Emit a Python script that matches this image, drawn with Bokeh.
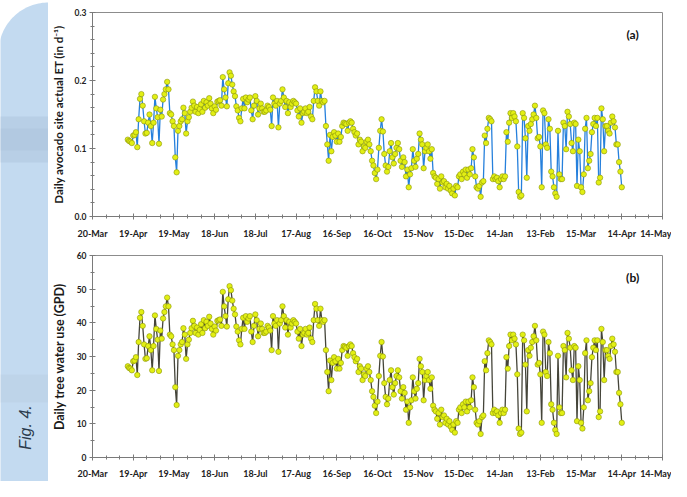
import numpy as np
from bokeh.plotting import figure
from bokeh.models import FixedTicker, Label, Range1d, NumeralTickFormatter
from bokeh.layouts import row, column
from bokeh.embed import file_html
from bokeh.resources import INLINE

# ---------------- data ----------------
TICK_DAYS = list(range(0, 421, 30))          # days after 20-Mar
TICK_LABELS = ["20-Mar", "19-Apr", "19-May", "18-Jun", "18-Jul", "17-Aug", "16-Sep",
               "16-Oct", "15-Nov", "15-Dec", "14-Jan", "13-Feb", "15-Mar", "14-Apr", "14-May"]
START_DAY = 26                                # first daily reading: 15-Apr

# Daily avocado site actual ET (in d-1)
ET = [0.113, 0.111, 0.110, 0.108, 0.119, 0.120, 0.124, 0.102, 0.143, 0.173,
      0.180, 0.163, 0.140, 0.122, 0.123, 0.138, 0.150, 0.133, 0.108, 0.138,
      0.176, 0.159, 0.146, 0.107, 0.157, 0.147, 0.172, 0.180, 0.187, 0.198,
      0.187, 0.152, 0.150, 0.140, 0.133, 0.087, 0.065, 0.126, 0.133, 0.140,
      0.143, 0.160, 0.152, 0.122, 0.140, 0.146, 0.154, 0.160, 0.169, 0.163,
      0.154, 0.161, 0.152, 0.158, 0.165, 0.154, 0.170, 0.160, 0.168, 0.163,
      0.174, 0.166, 0.159, 0.152, 0.162, 0.157, 0.169, 0.170, 0.171, 0.163,
      0.205, 0.187, 0.175, 0.162, 0.196, 0.212, 0.207, 0.194, 0.184, 0.177,
      0.162, 0.156, 0.145, 0.140, 0.159, 0.173, 0.159, 0.175, 0.168, 0.172,
      0.175, 0.156, 0.143, 0.163, 0.177, 0.170, 0.150, 0.159, 0.166, 0.159,
      0.154, 0.154, 0.156, 0.163, 0.161, 0.157, 0.133, 0.175, 0.166, 0.163,
      0.170, 0.131, 0.166, 0.170, 0.187, 0.175, 0.161, 0.170, 0.152, 0.168,
      0.161, 0.166, 0.170, 0.168, 0.166, 0.156, 0.147, 0.159, 0.138, 0.152,
      0.154, 0.159, 0.152, 0.154, 0.161, 0.147, 0.143, 0.170, 0.190, 0.184,
      0.170, 0.163, 0.184, 0.170, 0.168, 0.170, 0.133, 0.106, 0.082, 0.120,
      0.096, 0.117, 0.124, 0.119, 0.110, 0.122, 0.110, 0.117, 0.133, 0.138,
      0.137, 0.136, 0.126, 0.138, 0.140, 0.138, 0.129, 0.124, 0.119, 0.122,
      0.106, 0.113, 0.110, 0.096, 0.103, 0.101, 0.110, 0.113, 0.106, 0.096,
      0.082, 0.075, 0.064, 0.055, 0.069, 0.101, 0.126, 0.143, 0.125, 0.092,
      0.075, 0.066, 0.073, 0.096, 0.108, 0.087, 0.078, 0.092, 0.101, 0.108,
      0.099, 0.082, 0.073, 0.087, 0.080, 0.059, 0.069, 0.043, 0.062, 0.071,
      0.099, 0.082, 0.073, 0.085, 0.092, 0.122, 0.113, 0.106, 0.071, 0.096,
      0.101, 0.106, 0.096, 0.085, 0.099, 0.064, 0.059, 0.057, 0.048, 0.055,
      0.041, 0.059, 0.050, 0.052, 0.043, 0.048, 0.041, 0.045, 0.038, 0.034,
      0.041, 0.031, 0.045, 0.043, 0.059, 0.062, 0.055, 0.066, 0.062, 0.069,
      0.057, 0.069, 0.062, 0.071, 0.099, 0.087, 0.059, 0.043, 0.041, 0.045,
      0.029, 0.050, 0.052, 0.119, 0.108, 0.129, 0.145, 0.143, 0.140, 0.055,
      0.059, 0.055, 0.057, 0.052, 0.043, 0.055, 0.059, 0.055, 0.059, 0.124,
      0.110, 0.138, 0.152, 0.145, 0.152, 0.147, 0.140, 0.103, 0.036, 0.029,
      0.031, 0.152, 0.145, 0.115, 0.057, 0.133, 0.126, 0.136, 0.143, 0.150,
      0.163, 0.145, 0.115, 0.117, 0.103, 0.043, 0.156, 0.152, 0.106, 0.101,
      0.143, 0.129, 0.066, 0.059, 0.043, 0.034, 0.029, 0.126, 0.062, 0.055,
      0.055, 0.138, 0.133, 0.099, 0.154, 0.147, 0.136, 0.108, 0.096, 0.138,
      0.136, 0.045, 0.113, 0.096, 0.043, 0.036, 0.062, 0.129, 0.145, 0.071,
      0.082, 0.092, 0.124, 0.136, 0.145, 0.133, 0.145, 0.050, 0.057, 0.159,
      0.143, 0.096, 0.133, 0.133, 0.126, 0.122, 0.138, 0.147, 0.140, 0.131,
      0.106, 0.106, 0.080, 0.066, 0.043]

# Daily tree water use (GPD)
GPD = [27.1, 26.6, 26.4, 25.9, 28.6, 28.8, 29.8, 24.5, 34.3, 41.5,
       43.2, 39.1, 33.6, 29.3, 29.5, 33.1, 36.0, 31.9, 25.9, 33.1,
       42.2, 38.2, 35.0, 25.7, 37.7, 35.3, 41.3, 43.2, 44.9, 47.5,
       44.9, 36.5, 36.0, 33.6, 31.9, 20.9, 15.6, 30.2, 31.9, 33.6,
       34.3, 38.4, 36.5, 29.3, 33.6, 35.0, 37.0, 38.4, 40.6, 39.1,
       37.0, 38.6, 36.5, 37.9, 39.6, 37.0, 40.8, 38.4, 40.3, 39.1,
       41.8, 39.8, 38.2, 36.5, 38.9, 37.7, 40.6, 40.8, 41.0, 39.1,
       49.2, 44.9, 42.0, 38.9, 47.0, 50.9, 49.7, 46.6, 44.2, 42.5,
       38.9, 37.4, 34.8, 33.6, 38.2, 41.5, 38.2, 42.0, 40.3, 41.3,
       42.0, 37.4, 34.3, 39.1, 42.5, 40.8, 36.0, 38.2, 39.8, 38.2,
       37.0, 37.0, 37.4, 39.1, 38.6, 37.7, 31.9, 42.0, 39.8, 39.1,
       40.8, 31.4, 39.8, 40.8, 44.9, 42.0, 38.6, 40.8, 36.5, 40.3,
       38.6, 39.8, 40.8, 40.3, 39.8, 37.4, 35.3, 38.2, 33.1, 36.5,
       37.0, 38.2, 36.5, 37.0, 38.6, 35.3, 34.3, 40.8, 45.6, 44.2,
       40.8, 39.1, 44.2, 40.8, 40.3, 40.8, 31.9, 25.4, 19.7, 28.8,
       23.0, 28.1, 29.8, 28.6, 26.4, 29.3, 26.4, 28.1, 31.9, 33.1,
       32.9, 32.6, 30.2, 33.1, 33.6, 33.1, 31.0, 29.8, 28.6, 29.3,
       25.4, 27.1, 26.4, 23.0, 24.7, 24.2, 26.4, 27.1, 25.4, 23.0,
       19.7, 18.0, 15.4, 13.2, 16.6, 24.2, 30.2, 34.3, 30.0, 22.1,
       18.0, 15.8, 17.5, 23.0, 25.9, 20.9, 18.7, 22.1, 24.2, 25.9,
       23.8, 19.7, 17.5, 20.9, 19.2, 14.2, 16.6, 10.3, 14.9, 17.0,
       23.8, 19.7, 17.5, 20.4, 22.1, 29.3, 27.1, 25.4, 17.0, 23.0,
       24.2, 25.4, 23.0, 20.4, 23.8, 15.4, 14.2, 13.7, 11.5, 13.2,
       9.8, 14.2, 12.0, 12.5, 10.3, 11.5, 9.8, 10.8, 9.1, 8.2,
       9.8, 7.4, 10.8, 10.3, 14.2, 14.9, 13.2, 15.8, 14.9, 16.6,
       13.7, 16.6, 14.9, 17.0, 23.8, 20.9, 14.2, 10.3, 9.8, 10.8,
       7.0, 12.0, 12.5, 28.6, 25.9, 31.0, 34.8, 34.3, 33.6, 13.2,
       14.2, 13.2, 13.7, 12.5, 10.3, 13.2, 14.2, 13.2, 14.2, 29.8,
       26.4, 33.1, 36.5, 34.8, 36.5, 35.3, 33.6, 24.7, 8.6, 7.0,
       7.4, 36.5, 34.8, 27.6, 13.7, 31.9, 30.2, 32.6, 34.3, 36.0,
       39.1, 34.8, 27.6, 28.1, 24.7, 10.3, 37.4, 36.5, 25.4, 24.2,
       34.3, 31.0, 15.8, 14.2, 10.3, 8.2, 7.0, 30.2, 14.9, 13.2,
       13.2, 33.1, 31.9, 23.8, 37.0, 35.3, 32.6, 25.9, 23.0, 33.1,
       32.6, 10.8, 27.1, 23.0, 10.3, 8.6, 14.9, 31.0, 34.8, 17.0,
       19.7, 22.1, 29.8, 32.6, 34.8, 31.9, 34.8, 12.0, 13.7, 38.2,
       34.3, 23.0, 31.9, 31.9, 30.2, 29.3, 33.1, 35.3, 33.6, 31.4,
       25.4, 25.4, 19.2, 15.8, 10.3]

days = START_DAY + np.arange(len(ET))

# ---------------- styling ----------------
FONT = "Lato"
AXIS_COL = "#7a7a7a"
MARK_FILL = "#e2ef14"
MARK_EDGE = "#8a940a"
SIDE_W = 48
PANEL_W = 623


def panel(values, y_end, y_major, y_minor, fmt, ylabel, ylabel_size, line_col,
          tag, tag_y, height, top, bottom, x_standoff):
    p = figure(width=PANEL_W, height=height, x_range=Range1d(0, 420), y_range=Range1d(0, y_end),
               output_backend="svg", toolbar_location=None,
               min_border_left=44, min_border_right=9,
               min_border_top=top, min_border_bottom=bottom)
    p.grid.visible = False
    p.outline_line_color = "#8c8c8c"
    p.outline_line_width = 1
    p.background_fill_color = "white"
    p.border_fill_color = "white"

    xa = p.xaxis[0]
    xa.ticker = FixedTicker(ticks=TICK_DAYS, minor_ticks=list(range(0, 421, 10)))
    xa.major_label_overrides = {d: l for d, l in zip(TICK_DAYS, TICK_LABELS)}
    ya = p.yaxis[0]
    ya.ticker = FixedTicker(ticks=y_major, minor_ticks=y_minor)
    ya.formatter = NumeralTickFormatter(format=fmt)
    ya.axis_label = ylabel
    ya.axis_label_text_font = FONT
    ya.axis_label_text_font_style = "bold"
    ya.axis_label_text_font_size = ylabel_size
    ya.axis_label_text_color = "#1a1a1a"
    ya.axis_label_standoff = 7
    for ax in (xa, ya):
        ax.axis_line_color = AXIS_COL
        ax.major_tick_line_color = AXIS_COL
        ax.minor_tick_line_color = AXIS_COL
        ax.major_tick_in = 3
        ax.major_tick_out = 3
        ax.minor_tick_in = 2
        ax.minor_tick_out = 2
        ax.major_label_text_font = FONT
        ax.major_label_text_font_style = "bold"
        ax.major_label_text_color = "#222222"
    xa.major_label_text_font_size = "9px"
    ya.major_label_text_font_size = "8.5px"
    xa.major_label_standoff = x_standoff
    ya.major_label_standoff = 3

    p.line(days, values, line_color=line_col, line_width=1.3)
    p.scatter(days, values, size=5.4, fill_color=MARK_FILL, line_color=MARK_EDGE, line_width=0.6)

    p.add_layout(Label(x=398, y=tag_y, text=tag, text_font=FONT, text_font_style="bold",
                       text_font_size="12px", text_color="#111111",
                       text_align="center", text_baseline="middle"))
    return p


p1 = panel(ET, 0.3, [0, 0.1, 0.2, 0.3], list(np.round(np.arange(0, 0.301, 0.02), 2)), "0.0",
           "Daily avocado site actual ET (in d\u207b\u00b9)", "11.5px", "#2680dc",
           "(a)", 0.268, 241, 12, 22, 8)
p2 = panel(GPD, 60, list(range(0, 61, 10)), list(range(0, 61, 5)), "0",
           "Daily tree water use (GPD)", "12.5px", "#45453a",
           "(b)", 53.6, 240, 14, 20, 7)

# ---------------- decorative side band ----------------
SH = 481
side = figure(width=SIDE_W, height=SH, x_range=Range1d(0, SIDE_W), y_range=Range1d(0, SH),
              output_backend="svg", toolbar_location=None,
              min_border_left=0, min_border_right=0, min_border_top=0, min_border_bottom=0)
side.axis.visible = False
side.grid.visible = False
side.outline_line_color = None
side.background_fill_color = "white"
side.border_fill_color = "white"

r = 50.0
cx, cy = 48.0, SH - 2 - r
t = np.linspace(np.pi / 2, np.pi, 40)
xs = list(cx + r * np.cos(t)) + [-2, 48]
ys = list(cy + r * np.sin(t)) + [0, 0]
side.patch(xs, ys, fill_color="#c3daf0", line_color=None)
side.quad(left=-2, right=48, bottom=SH - 162, top=SH - 116, fill_color="#a7bfd6",
          fill_alpha=0.4, line_color=None)
side.quad(left=-2, right=48, bottom=SH - 150, top=SH - 128, fill_color="#9cb5cd",
          fill_alpha=0.2, line_color=None)
side.quad(left=-2, right=48, bottom=SH - 402, top=SH - 374, fill_color="#b2c8dc",
          fill_alpha=0.3, line_color=None)
side.add_layout(Label(x=25, y=SH - 427, text="Fig. 4.", angle=np.pi / 2,
                      text_font="Liberation Sans", text_font_style="italic",
                      text_font_size="16px", text_color="#2b3a4c",
                      text_align="center", text_baseline="middle"))

layout = row(side, column(p1, p2))

with open("out.html", "w") as f:
    f.write(file_html(layout, INLINE))
